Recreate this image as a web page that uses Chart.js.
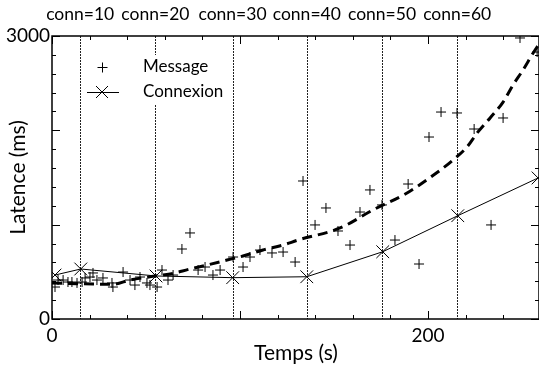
<!DOCTYPE html>
<html><head><meta charset="utf-8">
<script src="https://cdn.jsdelivr.net/npm/chart.js@4.4.1/dist/chart.umd.min.js"></script>
<style>html,body{margin:0;padding:0;background:#fff}canvas{display:block}</style>
</head><body>
<canvas id="c" width="539" height="367"></canvas>
<script>
// ---- data ----
const messageX = [1.6,3.2,5.9,8.5,10.6,13.3,16.0,17.6,20.2,21.8,23.9,27.1,31.9,32.4,37.8,41.5,44.1,46.8,50.5,52.1,55.9,58.5,61.7,64.4,69.1,73.4,77.7,81.4,85.6,89.4,96.3,101.6,105.3,110.6,117.0,122.9,129.3,133.5,139.9,145.7,152.1,158.5,163.8,169.1,175.5,182.4,189.4,195.2,200.5,206.9,215.4,224.5,233.5,239.9,248.9,258.0];
const messageY = [339,413,413,392,392,382,392,435,445,488,413,435,382,339,498,413,360,445,382,360,339,519,413,466,742,912,519,551,466,519,657,551,657,731,700,710,604,1463,997,1177,933,784,1134,1368,1209,837,1431,583,1929,2194,2184,2014,997,2131,2979,2830];
const connexionX = [1.6,15.3,55.3,96.1,135.5,175.9,215.8,258.5];
const connexionY = [466,530,456,438,448,713,1095,1495];
const fitX = [0,21.8,32.4,41.5,52.1,62.8,73.4,82.4,93.1,101.6,112.2,122.9,130.9,153.2,170.7,188.8,204.8,213.3,220.7,226.1,233,239.9,245.2,250.5,255.9,259];
const fitY = [382,371,368,413,448,477,530,572,625,668,731,784,837,965,1156,1336,1553,1686,1823,1972,2131,2300,2481,2640,2820,2915];
const connTimes = [15,55,96,135.5,175.5,215.5];
const connLabels = ['conn=10','conn=20','conn=30','conn=40','conn=50','conn=60'];
const xTickLabels = [0,200];
const yTickLabels = [0,3000];
const seriesNames = ['Message','Connexion'];

const FONT = 'Lato, "Open Sans", sans-serif';

const toPts = (xs, ys) => xs.map((x,i)=>({x, y: ys[i]}));

const decor = {
  id: 'decor',
  beforeDatasetsDraw(chart) {
    const {ctx, chartArea: a, scales: {x, y}} = chart;
    ctx.save();
    ctx.strokeStyle = '#222';
    ctx.lineWidth = 1;
    ctx.setLineDash([2,1]);
    connTimes.forEach(t => {
      const px = Math.round(x.getPixelForValue(t)) + 0.5;
      ctx.beginPath(); ctx.moveTo(px, a.top); ctx.lineTo(px, a.bottom); ctx.stroke();
    });
    ctx.setLineDash([]);
    ctx.strokeStyle = '#000';
    ctx.lineWidth = 1;
    for (let v = 0; v <= x.max; v += 20) {
      const px = Math.round(x.getPixelForValue(v)) + 0.5;
      const len = v % 100 === 0 ? 8 : 4;
      ctx.beginPath();
      ctx.moveTo(px, a.bottom); ctx.lineTo(px, a.bottom - len);
      ctx.moveTo(px, a.top); ctx.lineTo(px, a.top + len);
      ctx.stroke();
    }
    for (let v = 0; v <= y.max; v += 200) {
      const py = Math.round(y.getPixelForValue(v)) + 0.5;
      const len = v % 1000 === 0 ? 8 : 4;
      ctx.beginPath();
      ctx.moveTo(a.left, py); ctx.lineTo(a.left + len, py);
      ctx.moveTo(a.right, py); ctx.lineTo(a.right - len, py);
      ctx.stroke();
    }
    ctx.restore();
  },
  afterDatasetsDraw(chart) {
    const {ctx, chartArea: a, scales: {x}} = chart;
    ctx.save();
    ctx.strokeStyle = '#000';
    ctx.lineWidth = 1.5;
    ctx.strokeRect(a.left, a.top, a.right - a.left, a.bottom - a.top);
    ctx.fillStyle = '#000';
    ctx.font = '17.5px ' + FONT;
    ctx.textAlign = 'center';
    ctx.textBaseline = 'middle';
    connTimes.forEach((t, i) => {
      ctx.fillText(connLabels[i], x.getPixelForValue(t), 14);
    });
    ctx.fillStyle = '#fff';
    ctx.fillRect(135, 55, 95, 49);
    ctx.fillStyle = '#000';
    ctx.textAlign = 'left';
    ctx.font = '17px ' + FONT;
    ctx.fillText(seriesNames[0], 143, 67);
    ctx.fillText(seriesNames[1], 143, 92);
    ctx.strokeStyle = '#000';
    ctx.lineWidth = 1;
    ctx.beginPath();
    ctx.moveTo(97.5, 67.5); ctx.lineTo(107.5, 67.5);
    ctx.moveTo(102.5, 62.5); ctx.lineTo(102.5, 72.5);
    ctx.moveTo(87, 92.5); ctx.lineTo(119, 92.5);
    ctx.moveTo(96, 86); ctx.lineTo(108, 98);
    ctx.moveTo(108, 86); ctx.lineTo(96, 98);
    ctx.stroke();
    ctx.font = '21px ' + FONT;
    ctx.textAlign = 'center';
    ctx.fillText('Temps (s)', 296, 353);
    ctx.translate(18, (a.top + a.bottom) / 2);
    ctx.rotate(-Math.PI / 2);
    ctx.fillText('Latence (ms)', 0, 0);
    ctx.restore();
  }
};

new Chart(document.getElementById('c'), {
  type: 'scatter',
  data: {
    datasets: [
      { label: 'fit', type: 'line', data: toPts(fitX, fitY), borderColor: '#000', borderWidth: 3,
        borderDash: [10,6], pointRadius: 0, fill: false, cubicInterpolationMode: 'monotone', order: 3 },
      { label: seriesNames[1], data: toPts(connexionX, connexionY), showLine: true, borderColor: '#000',
        backgroundColor: '#000', borderWidth: 1, pointStyle: 'crossRot', pointRadius: 9, pointBorderWidth: 1, order: 2 },
      { label: seriesNames[0], data: toPts(messageX, messageY), showLine: false, borderColor: '#000',
        backgroundColor: '#000', pointStyle: 'cross', pointRadius: 5, pointBorderWidth: 1, order: 1 }
    ]
  },
  options: {
    responsive: false, animation: false, devicePixelRatio: 1,
    layout: { autoPadding: false, padding: { top: 36, right: 0, left: 0, bottom: 0 } },
    plugins: { legend: { display: false }, tooltip: { enabled: false } },
    scales: {
      x: { type: 'linear', min: 0, max: 259,
        grid: { display: false, drawTicks: false }, border: { display: false },
        ticks: { stepSize: 100, autoSkip: false, maxRotation: 0, padding: 5, color: '#000',
          font: { size: 19, family: FONT },
          callback: v => xTickLabels.includes(v) ? String(v) : '' },
        afterFit: s => { s.height = 48; s.paddingLeft = 0; s.paddingRight = 0; } },
      y: { min: 0, max: 3000,
        grid: { display: false, drawTicks: false }, border: { display: false },
        ticks: { stepSize: 1000, autoSkip: false, padding: 2, color: '#000',
          font: { size: 19, family: FONT },
          callback: v => yTickLabels.includes(v) ? String(v) : '' },
        afterFit: s => { s.width = 52; s.paddingTop = 0; s.paddingBottom = 0; } }
    }
  },
  plugins: [decor]
});
</script>
</body></html>
